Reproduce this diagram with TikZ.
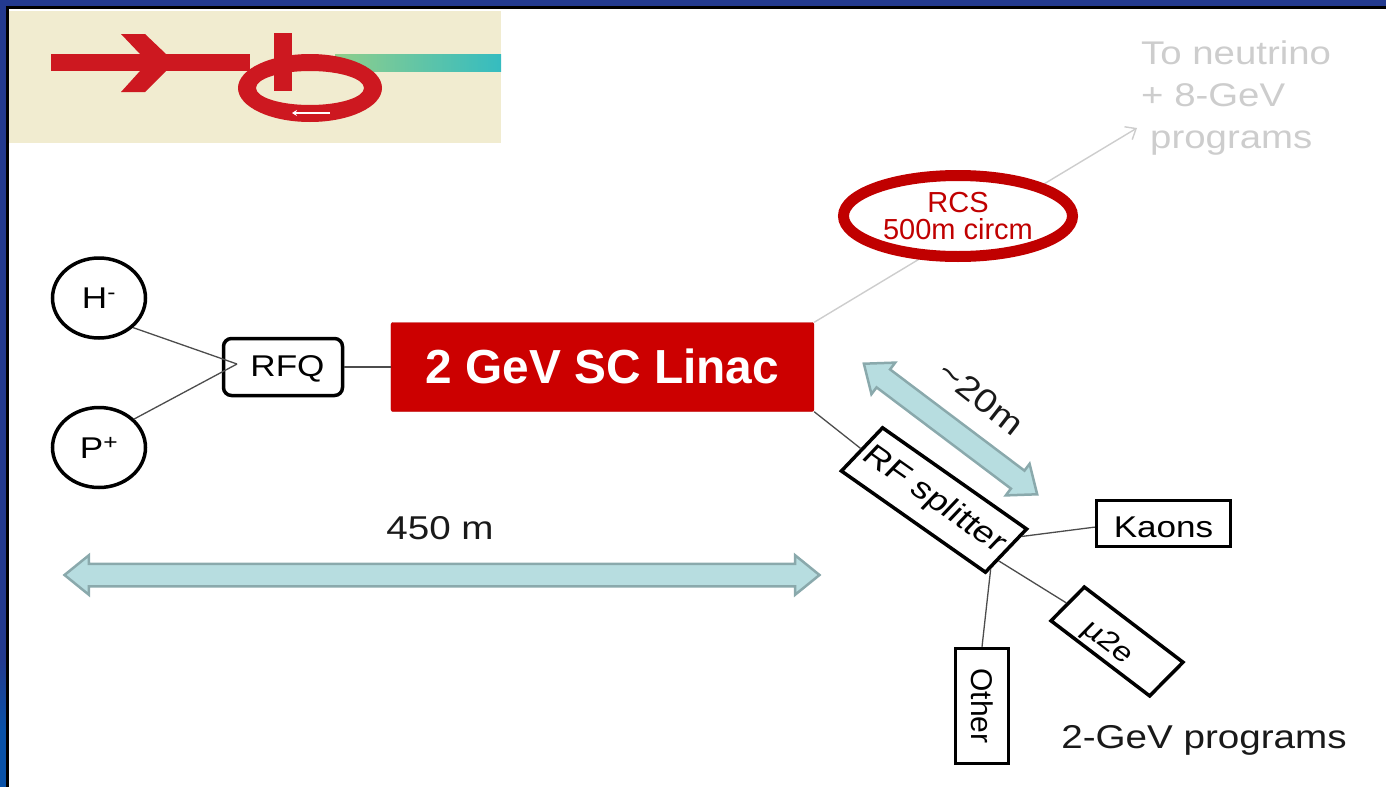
\documentclass[tikz,border=0pt]{standalone}
\usepackage{xcolor}
\usepackage{fontspec}
\setmainfont{Liberation Sans}
\newfontfamily\widefont[FakeStretch=1.17]{Liberation Sans}
\usetikzlibrary{positioning,shapes.geometric,shapes.arrows,arrows.meta}
\definecolor{frameblue}{RGB}{35,58,143}
\definecolor{framelow}{RGB}{10,82,168}
\definecolor{bannerbg}{RGB}{241,236,208}
\definecolor{beamred}{RGB}{205,24,32}
\definecolor{beamgreen}{RGB}{143,206,139}
\definecolor{beamteal}{RGB}{53,188,192}
\definecolor{linacred}{RGB}{204,0,0}
\definecolor{rcsred}{RGB}{192,0,0}
\definecolor{spanfill}{RGB}{183,221,224}
\definecolor{spanline}{RGB}{138,169,172}
\definecolor{fadedgray}{RGB}{205,205,205}
\newcommand{\nudged}[2]{\raisebox{#1}[\height][\depth]{#2}}

\begin{document}
\begin{tikzpicture}[
    x=1pt,y=-1pt,
    source/.style={draw,ellipse,line width=3.5pt,minimum width=93pt,minimum height=80pt,inner sep=0pt,font=\widefont\fontsize{30}{34}\selectfont},
    tilted/.style={draw,line width=3.5pt,fill=white,inner sep=0pt,align=center},
    span/.style={double arrow,draw=spanline,fill=spanfill,line width=2.5pt,inner sep=10pt,double arrow head extend=8.5pt,double arrow tip angle=78},
    label/.style={inner sep=0pt,font=\widefont\fontsize{33}{38}\selectfont,text=black!90},
    link/.style={draw=black!70,line width=1.3pt}
  ]
    \useasboundingbox (0,0) rectangle (1386,787);
    % slide frame
    \fill[frameblue] (0,0) rectangle (1386,6);
    \fill[frameblue] (0,0) rectangle (6,660);
    \shade[top color=frameblue,bottom color=framelow] (0,660) rectangle (6,730);
    \fill[framelow] (0,730) rectangle (6,787);
    \fill[black] (6,6) rectangle (1386,9);
    \fill[black] (6,6) rectangle (9,787);
    % banner
    \fill[bannerbg] (9,11) rectangle (501,143);
    \shade[left color=beamgreen,right color=beamteal] (335,54) rectangle (501,71);
    \fill[beamred] (51,54) rectangle (250,71);
    \fill[beamred] (121,34) -- (145,34) -- (166,54) -- (166,71) -- (145,92) -- (121,92) -- (140,71) -- (140,54) -- cycle;
    \fill[beamred,even odd rule] (310,88) ellipse [x radius=72,y radius=34] (310,88) ellipse [x radius=54,y radius=17];
    \fill[beamred] (274,33) rectangle (292,91);
    \draw[white,line width=1.6pt,{Stealth[length=5pt,width=6pt]}-] (292,113) -- (330,113);

    % injector
    \node[source] (hminus) at (99,298) {H\textsuperscript{-}};
    \node[source,below=66pt of hminus] (pplus) {P\textsuperscript{+}};
    \node[draw,rounded corners=8pt,line width=3.5pt,minimum width=119pt,minimum height=57pt,inner sep=0pt,font=\widefont\fontsize{30}{34}\selectfont,fill=white] (rfq) at (283,367) {\hspace*{9pt}\nudged{-2pt}{RFQ}};
    \node[fill=linacred,draw=linacred!90!black,rounded corners=2pt,text=white,minimum width=423pt,minimum height=89pt,inner sep=0pt,font=\bfseries\fontsize{47.8}{50}\selectfont,right=46.5pt of rfq] (linac) {\nudged{1pt}{2 GeV SC Linac}};
    \coordinate (merge) at (237,364);
    \draw[link] (hminus.-41) -- (merge);
    \draw[link] (pplus.39) -- (merge);
    \draw[link] (rfq) -- (linac);

    % ring
    \coordinate (totarget) at (1137,128);
    \draw[fadedgray,line width=1.4pt,-{Straight Barb[length=9pt,width=15pt]}] (linac.north east) -- (totarget);
    \node[draw=rcsred,fill=white,ellipse,line width=11pt,minimum width=229pt,minimum height=81pt,inner sep=0pt,align=center,text=rcsred,font=\fontsize{29}{27}\selectfont] (rcs) at (958,216) {RCS\\500m circm};
    \node[label,text=fadedgray,align=left,anchor=north west,font=\widefont\fontsize{32.8}{42}\selectfont] (target) at (1141,41) {To neutrino\\+ 8-GeV\\\hspace*{9pt}programs};

    % 2-GeV part
    \node[tilted,rotate=-35.1,xslant=0.15,minimum width=176pt,minimum height=59pt,font=\widefont\fontsize{31}{36}\selectfont] (splitter) at (934,500) {RF splitter};
    \node[draw,line width=3.5pt,minimum width=134pt,minimum height=46pt,inner sep=0pt,font=\widefont\fontsize{30}{34}\selectfont] (kaons) at (1163.5,523.5) {\nudged{-4pt}{Kaons}};
    \node[tilted,rotate=-37.3,xslant=0.13,minimum width=124pt,minimum height=47pt,font=\widefont\fontsize{28}{32}\selectfont] (mue) at (1117,641.5) {\nudged{-7pt}{µ2e}\hspace*{12pt}};
    \node[tilted,rotate=-90,minimum width=115pt,minimum height=53pt,font=\fontsize{30}{34}\selectfont] (other) at (982,706) {Other};
    \draw[link] (linac.south east) -- (splitter.west);
    \draw[link] (splitter.13) -- (kaons.183);
    \draw[link] (splitter.-8) -- (mue.west);
    \draw[link] (splitter.-15) -- (other.west);
    \node[label] (programs) at (1204,740) {2-GeV programs};

    % distances
    \node[span,minimum height=755pt,minimum width=38pt] (longspan) at (442,575) {};
    \node[label] (longlabel) at (440,528) {450 m};
    \node[span,rotate=-37,minimum height=217pt,minimum width=39pt] (shortspan) at (950.5,429) {};
    \node[label,rotate=-38] (shortlabel) at (981,398) {\textasciitilde20m};
  \end{tikzpicture}
\end{document}
